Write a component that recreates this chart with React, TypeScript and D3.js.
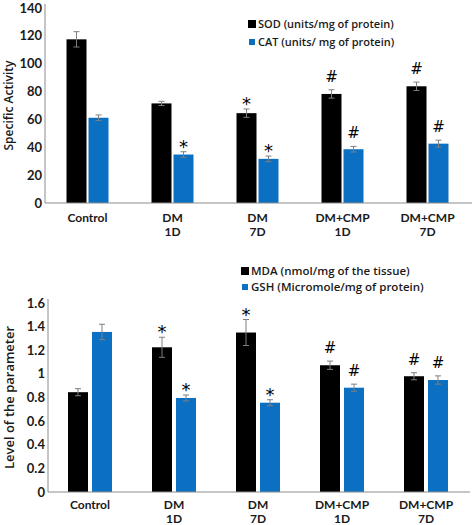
import React from "react";
import * as d3 from "d3";

const categories = ["Control", "DM|1D", "DM|7D", "DM+CMP|1D", "DM+CMP|7D"];

const sodValues = [117.5, 71.5, 64.5, 78.3, 83.8];
const sodErrors = [5.5, 1.5, 3, 3, 3];
const catValues = [61.2, 34.8, 31.7, 38.6, 42.6];
const catErrors = [2, 2, 2, 2, 2.5];
const sodMarks = ["", "", "*", "#", "#"];
const catMarks = ["", "*", "*", "#", "#"];
const topTicks = [0, 20, 40, 60, 80, 100, 120, 140];

const mdaValues = [0.845, 1.225, 1.35, 1.073, 0.98];
const mdaErrors = [0.03, 0.085, 0.11, 0.035, 0.03];
const gshValues = [1.355, 0.796, 0.756, 0.883, 0.948];
const gshErrors = [0.065, 0.025, 0.025, 0.03, 0.035];
const mdaMarks = ["", "*", "*", "#", "#"];
const gshMarks = ["", "*", "*", "#", "#"];
const bottomTicks = [0, 0.2, 0.4, 0.6, 0.8, 1, 1.2, 1.4, 1.6];

const seriesNames = [
  "SOD (units/mg of protein)",
  "CAT (units/ mg of protein)",
  "MDA (nmol/mg of the tissue)",
  "GSH (Micromole/mg of protein)",
];

const BLACK = "#000000";
const BLUE = "#0c70c2";
const FONT = "Lato, 'Open Sans', sans-serif";

type PanelProps = {
  x0: number; x1: number; yTop: number; yBottom: number; max: number;
  ticks: number[]; a: number[]; aErr: number[]; b: number[]; bErr: number[];
  aMarks: string[]; bMarks: string[]; barW: number; gap: number;
  title: string; titleX: number; titleSize: number;
  legend: string[]; legendX: number; legendY: number[]; legendSize: number;
  labelY: number; tickFmt: (v: number) => string;
};

function Panel(p: PanelProps) {
  const x = d3.scaleBand().domain(categories).range([p.x0, p.x1]);
  const y = d3.scaleLinear().domain([0, p.max]).range([p.yBottom, p.yTop]);
  const cx = (c: string) => (x(c) as number) + x.bandwidth() / 2;
  const bars = (vals: number[], errs: number[], marks: string[], color: string, side: number) =>
    categories.map((c, i) => {
      const left = side < 0 ? cx(c) - p.gap / 2 - p.barW : cx(c) + p.gap / 2;
      const mid = left + p.barW / 2;
      const top = y(vals[i]);
      const eTop = y(vals[i] + errs[i]);
      const eBot = y(vals[i] - errs[i]);
      return (
        <g key={c + color}>
          <rect x={left} y={top} width={p.barW} height={p.yBottom - top} fill={color} />
          <line x1={mid} x2={mid} y1={eTop} y2={eBot} stroke="#7f7f7f" strokeWidth={1} />
          <line x1={mid - 3} x2={mid + 3} y1={eTop} y2={eTop} stroke="#7f7f7f" strokeWidth={1} />
          <line x1={mid - 3} x2={mid + 3} y1={eBot} y2={eBot} stroke="#7f7f7f" strokeWidth={1} />
          {marks[i] && (
            <text x={mid} y={eTop - 8} textAnchor="middle" fontSize={marks[i] === "*" ? 18 : 15}
              fontFamily="'DejaVu Sans', sans-serif" fill="#000"
              dy={marks[i] === "*" ? "0.5em" : "0"}>{marks[i]}</text>
          )}
        </g>
      );
    });
  return (
    <g fontFamily={FONT}>
      {bars(p.a, p.aErr, p.aMarks, BLACK, -1)}
      {bars(p.b, p.bErr, p.bMarks, BLUE, 1)}
      <line x1={p.x0} x2={p.x0} y1={p.yTop - 4} y2={p.yBottom} stroke="#8c8c8c" />
      <line x1={p.x0} x2={p.x1 + 2} y1={p.yBottom} y2={p.yBottom} stroke="#8c8c8c" />
      {p.ticks.map((t) => (
        <text key={t} x={p.x0 - 3} y={y(t)} dy="0.35em" textAnchor="end" fontSize={13}
          fontWeight={700} fill="#1a1a1a">{p.tickFmt(t)}</text>
      ))}
      {categories.map((c) => {
        const lines = c.split("|");
        return (
          <text key={c} x={cx(c)} y={p.labelY} textAnchor="middle" fontSize={12} fontWeight={700} fill="#1a1a1a">
            {lines.map((l, j) => (
              <tspan key={j} x={cx(c)} dy={j === 0 ? 0 : 14}>{l}</tspan>
            ))}
          </text>
        );
      })}
      <text transform={`translate(${p.titleX},${(p.yTop + p.yBottom) / 2}) rotate(-90)`}
        textAnchor="middle" fontSize={p.titleSize} fontWeight={600} fill="#1a1a1a"
        fontFamily="'Open Sans', sans-serif">{p.title}</text>
      {p.legend.map((l, i) => (
        <g key={l}>
          <rect x={p.legendX - (i === 0 ? 8 : 7)} y={p.legendY[i] - (i === 0 ? 4 : 3)}
            width={i === 0 ? 8 : 6} height={i === 0 ? 8 : 6} fill={i === 0 ? BLACK : BLUE} />
          <text x={p.legendX + 2} y={p.legendY[i]} dy="0.35em" fontSize={p.legendSize} fontWeight={600}
            fill="#1a1a1a" fontFamily="'Open Sans', sans-serif">{l}</text>
        </g>
      ))}
    </g>
  );
}

export default function App() {
  return (
    <svg width={472} height={525} style={{ position: "absolute", left: 0, top: 0, background: "#fff" }}>
      <rect width={472} height={525} fill="#fff" />
      <Panel x0={45} x1={470} yTop={8} yBottom={203} max={140} ticks={topTicks}
        a={sodValues} aErr={sodErrors} b={catValues} bErr={catErrors} aMarks={sodMarks} bMarks={catMarks}
        barW={20} gap={2} title="Specific Activity" titleX={13} titleSize={12}
        legend={[seriesNames[0], seriesNames[1]]} legendX={256} legendY={[24, 42]} legendSize={11}
        labelY={222} tickFmt={(v) => String(v)} />
      <Panel x0={48} x1={468} yTop={303} yBottom={492} max={1.6} ticks={bottomTicks}
        a={mdaValues} aErr={mdaErrors} b={gshValues} bErr={gshErrors} aMarks={mdaMarks} bMarks={gshMarks}
        barW={20} gap={4} title="Level of the parameter" titleX={14} titleSize={13}
        legend={[seriesNames[2], seriesNames[3]]} legendX={249} legendY={[271, 287]} legendSize={11.5}
        labelY={509} tickFmt={(v) => String(v)} />
    </svg>
  );
}
